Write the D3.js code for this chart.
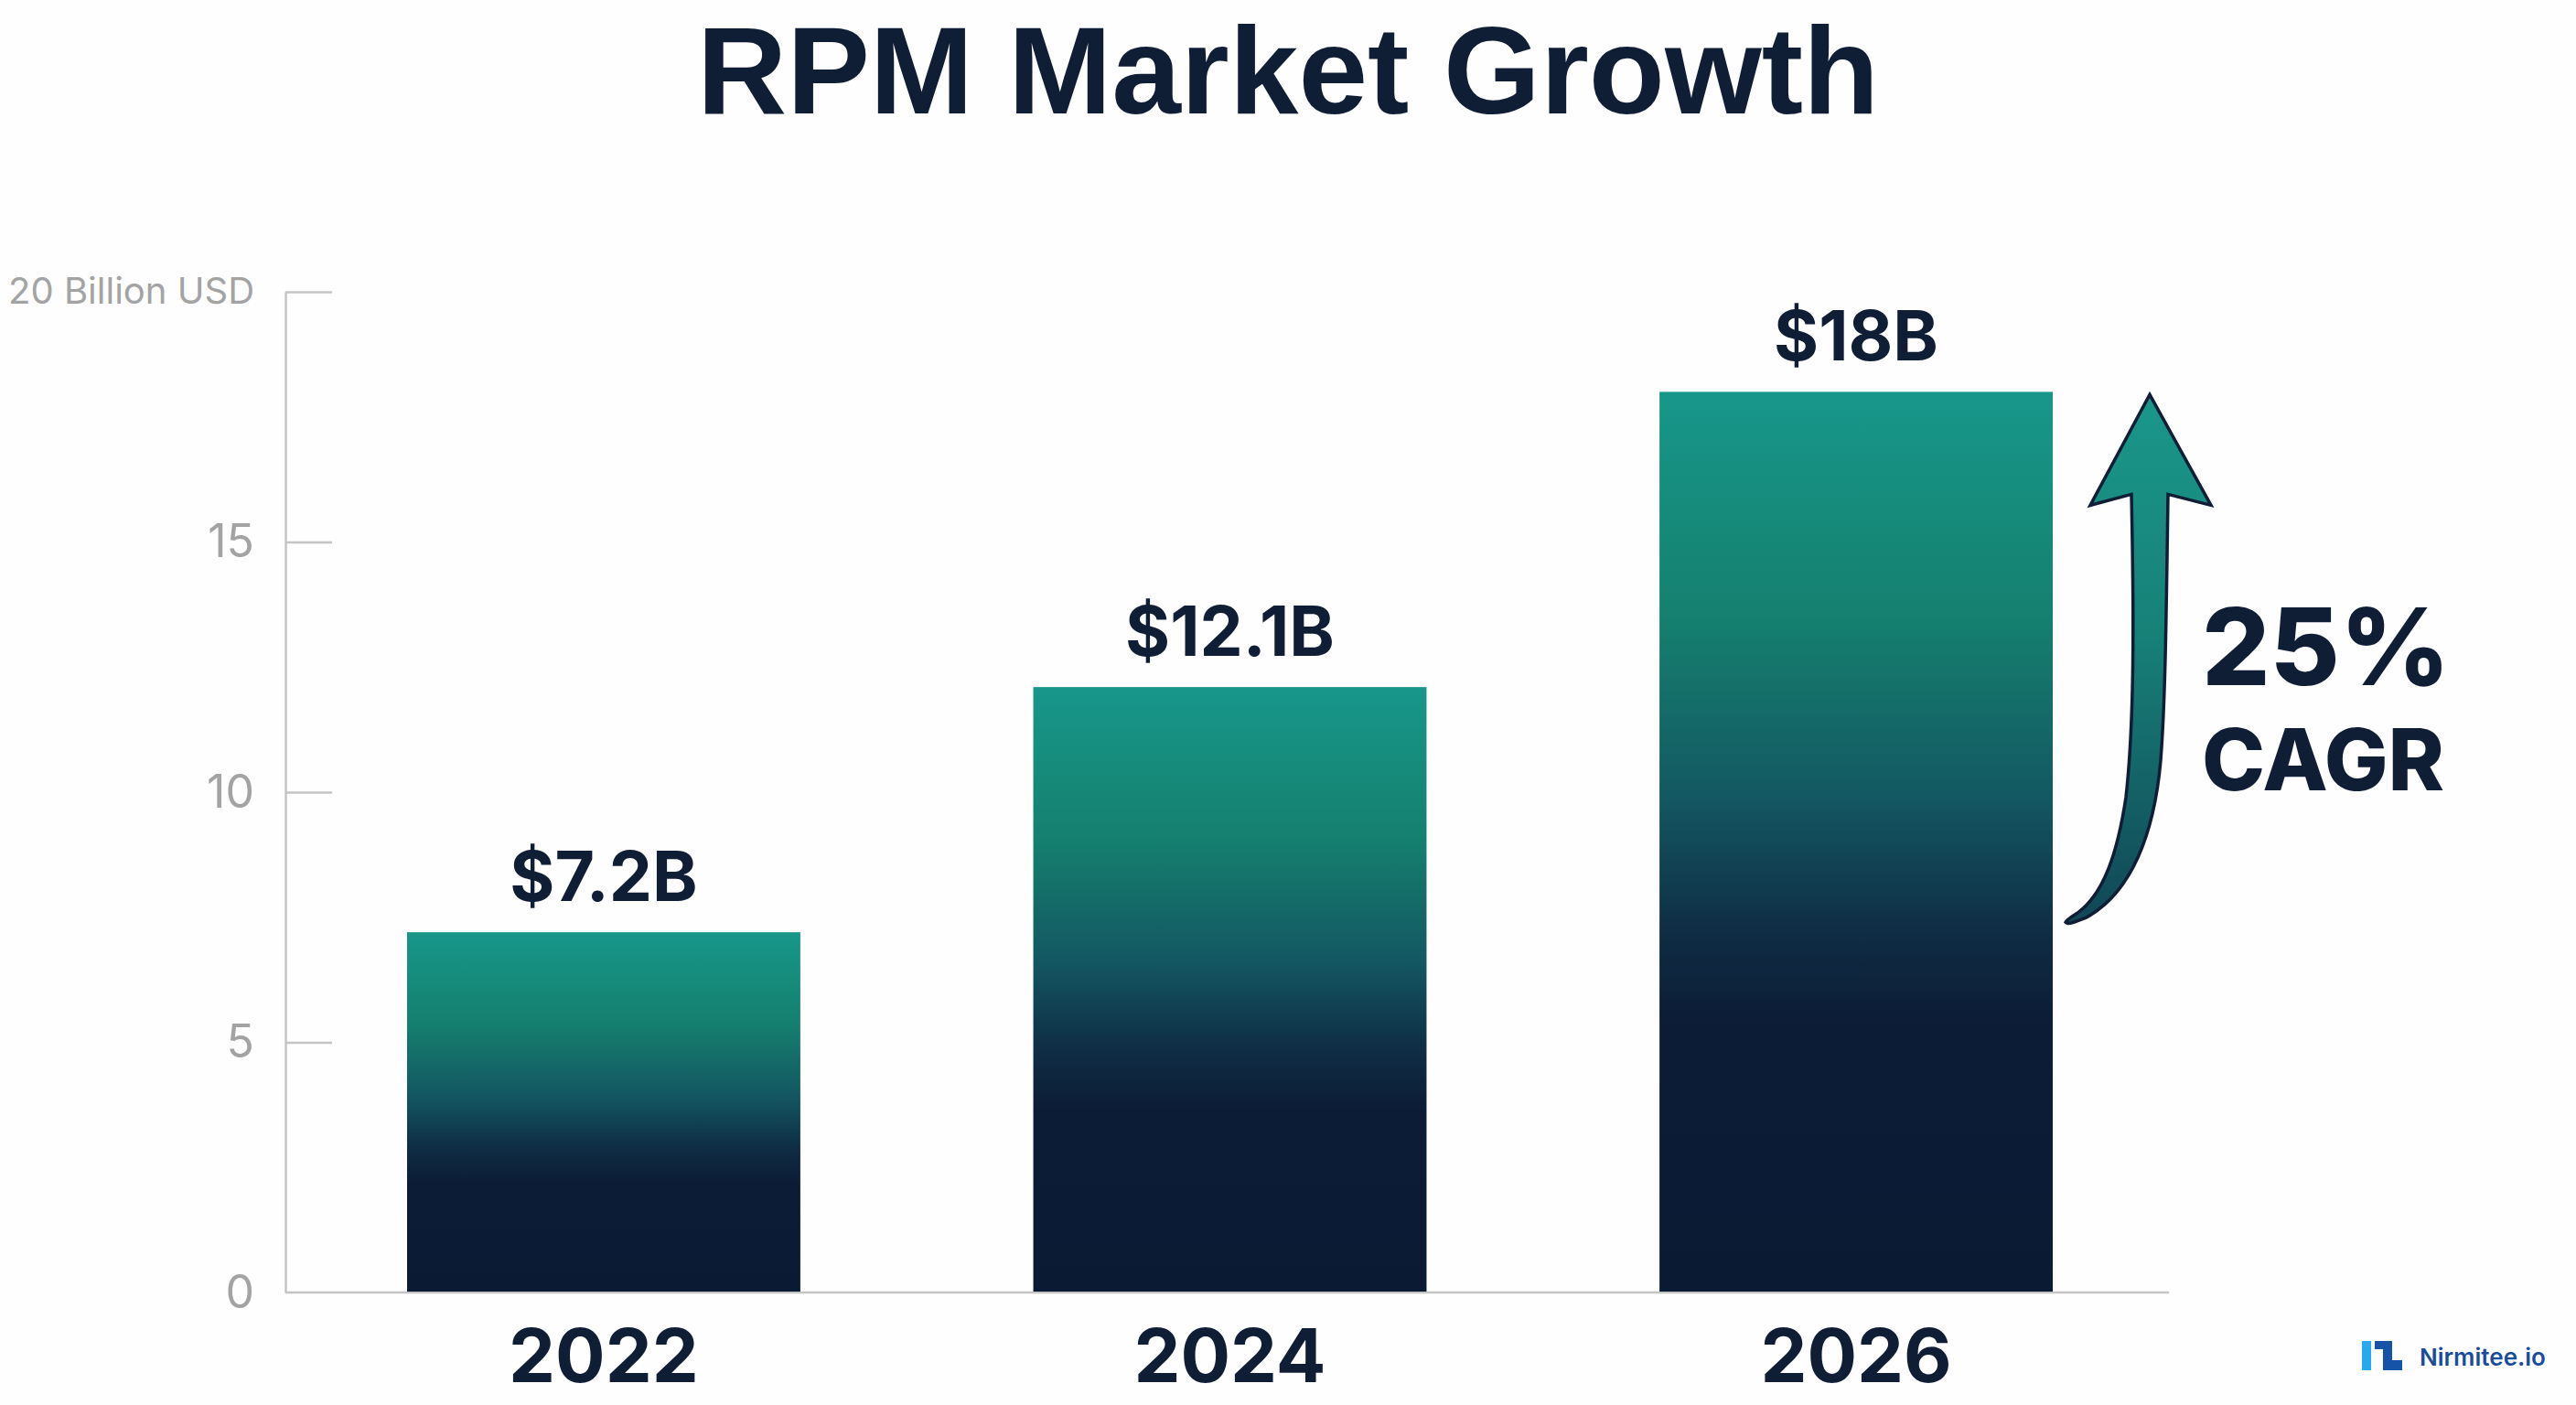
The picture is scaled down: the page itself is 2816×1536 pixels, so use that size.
<!DOCTYPE html>
<html>
<head>
<meta charset="utf-8">
<script src="https://cdn.jsdelivr.net/npm/d3@7"></script>
<style>
  body { margin: 0; background: #fefefe; }
  svg { display: block; }
</style>
</head>
<body>
<div id="chart"></div>
<script>
// chart data
const years = ["2022", "2024", "2026"];
const marketValues = [7.2, 12.1, 18];
const valueLabels = ["$7.2B", "$12.1B", "$18B"];
const yTicks = [0, 5, 10, 15, 20];
const cagrLabel = ["25%", "CAGR"];

const W = 2816, H = 1536;
const margin = {left: 312, right: 445, top: 319, bottom: 123};
const ink = "#0f1d35";

const svg = d3.select("#chart").append("svg")
    .attr("width", W)
    .attr("height", H);

svg.append("rect").attr("width", W).attr("height", H).attr("fill", "#fefefe");

const defs = svg.append("defs");

// bar gradient, teal at top fading to dark navy
let barGrad = defs.append("linearGradient")
    .attr("id", "barGrad")
    .attr("x1", 0).attr("y1", 0).attr("x2", 0).attr("y2", 1);
[[0, "#17978a"], [0.25, "#15806f"], [0.45, "#135862"], [0.6, "#0f2d44"], [0.7, "#0c1c36"], [1, "#0b1a33"]]
    .forEach(s => barGrad.append("stop").attr("offset", s[0]).attr("stop-color", s[1]));

let arrowGrad = defs.append("linearGradient")
    .attr("id", "arrowGrad")
    .attr("x1", 0).attr("y1", 0).attr("x2", 0).attr("y2", 1);
[[0, "#1a978a"], [0.45, "#178178"], [1, "#114656"]]
    .forEach(s => arrowGrad.append("stop").attr("offset", s[0]).attr("stop-color", s[1]));

// scales
const y = d3.scaleLinear()
    .domain([0, 20])
    .range([H - margin.bottom, margin.top]);

const x = d3.scaleBand()
    .domain(years)
    .range([445, 2244])
    .paddingInner(0.372)
    .paddingOuter(0);

// title
svg.append("text")
    .attr("x", W / 2)
    .attr("y", 124)
    .attr("text-anchor", "middle")
    .attr("font-family", "'Liberation Sans', Arial, sans-serif")
    .attr("font-weight", 700)
    .attr("font-size", 136)
    .attr("fill", ink)
    .text("RPM Market Growth");

// y axis: ticks point inwards, labels on the left
const yAxis = d3.axisLeft(y)
    .tickValues(yTicks)
    .tickSize(-51)
    .tickSizeOuter(0)
    .tickPadding(34)
    .tickFormat(d => d === 20 ? "20 Billion USD" : d);

const yG = svg.append("g")
    .attr("transform", `translate(${margin.left},0)`)
    .call(yAxis);

yG.select(".domain").attr("stroke", "#c4c4c4").attr("stroke-width", 2.5);
yG.selectAll(".tick line").attr("stroke", "#c4c4c4").attr("stroke-width", 2.5)
    .filter(d => d === 0).remove();
yG.selectAll(".tick text")
    .attr("font-family", "Inter, 'Noto Sans', sans-serif")
    .attr("font-size", d => d === 20 ? 40 : 50)
    .attr("fill", "#a3a3a3");

// baseline
svg.append("line")
    .attr("x1", margin.left).attr("x2", W - margin.right)
    .attr("y1", y(0)).attr("y2", y(0))
    .attr("stroke", "#c4c4c4")
    .attr("stroke-width", 2.5);

// bars
const barData = years.map((yr, i) => ({year: yr, value: marketValues[i], label: valueLabels[i]}));

svg.selectAll(".bar")
    .data(barData)
    .enter().append("rect")
    .attr("class", "bar")
    .attr("x", d => x(d.year))
    .attr("y", d => y(d.value))
    .attr("width", x.bandwidth())
    .attr("height", d => y(0) - y(d.value) - 1)
    .attr("fill", "url(#barGrad)");

// value labels
svg.selectAll(".valLabel")
    .data(barData)
    .enter().append("text")
    .attr("class", "valLabel")
    .attr("x", d => x(d.year) + x.bandwidth() / 2)
    .attr("y", d => y(d.value) - 34)
    .attr("text-anchor", "middle")
    .attr("font-family", "Inter, sans-serif")
    .attr("font-weight", 700)
    .attr("font-size", 75)
    .attr("fill", ink)
    .text(d => d.label);

// year labels
svg.selectAll(".yearLabel")
    .data(barData)
    .enter().append("text")
    .attr("class", "yearLabel")
    .attr("x", d => x(d.year) + x.bandwidth() / 2)
    .attr("y", 1511)
    .attr("text-anchor", "middle")
    .attr("font-family", "Inter, sans-serif")
    .attr("font-weight", 700)
    .attr("font-size", 81)
    .attr("fill", ink)
    .text(d => d.year);

// growth arrow beside the last bar, tip level with its top
const last = barData[barData.length - 1];
const tipX = x(last.year) + x.bandwidth() + 106;
const tipY = y(last.value) + 3;

svg.append("path")
    .attr("transform", `translate(${tipX},${tipY})`)
    .attr("d", "M0,0 L67,121 L20,109 C18,250 17,335 12,400 C5,480 -20,545 -70,572 " +
               "C-80,576 -90,580 -92,577 C-90,573 -84,570 -78,566 " +
               "C-50,545 -35,500 -26,440 C-17,360 -17,250 -20,109 L-65,121 Z")
    .attr("fill", "url(#arrowGrad)")
    .attr("stroke", ink)
    .attr("stroke-width", 3.5)
    .attr("stroke-linejoin", "miter");

// CAGR callout
const cagr = svg.append("g").attr("transform", `translate(2407,0)`);
cagr.append("text")
    .attr("x", 0).attr("y", 749)
    .attr("font-family", "Inter, sans-serif")
    .attr("font-weight", 800)
    .attr("font-size", 117)
    .attr("fill", ink)
    .text(cagrLabel[0]);
cagr.append("text")
    .attr("x", 0).attr("y", 864)
    .attr("font-family", "Inter, sans-serif")
    .attr("font-weight", 800)
    .attr("font-size", 93)
    .attr("fill", ink)
    .text(cagrLabel[1]);

// brand mark bottom right
const logo = svg.append("g").attr("transform", "translate(2582,1466)");
logo.append("rect")
    .attr("x", 0).attr("y", 0).attr("width", 10).attr("height", 32)
    .attr("fill", "#27a9ef");
logo.append("path")
    .attr("d", "M14,0 L33,0 L33,21 L44,21 L44,32 L23,32 L23,9 L14,9 Z")
    .attr("fill", "#1553a8");
logo.append("text")
    .attr("x", 63).attr("y", 27)
    .attr("font-family", "Inter, sans-serif")
    .attr("font-weight", 600)
    .attr("font-size", 26)
    .attr("fill", "#1a4c9c")
    .text("Nirmitee.io");
</script>
</body>
</html>
